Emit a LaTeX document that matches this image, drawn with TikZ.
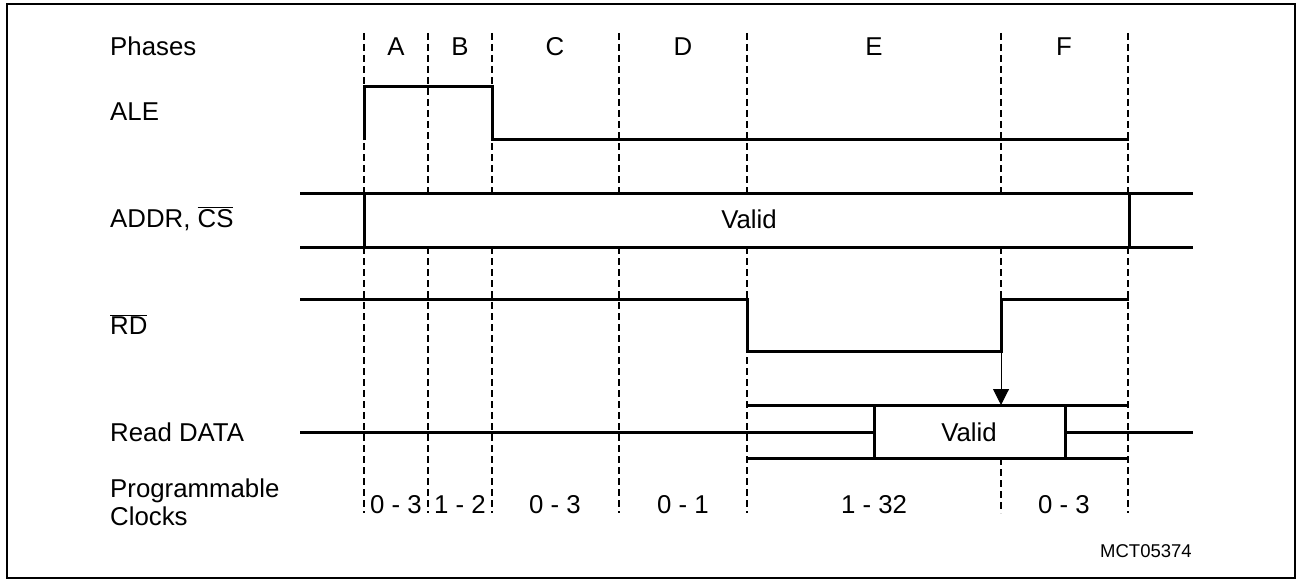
\documentclass[tikz,border=0pt]{standalone}
\usepackage{fontspec}
\setmainfont{Liberation Sans}
\usetikzlibrary{arrows.meta}
\begin{document}
\begin{tikzpicture}[x=1pt,y=-1pt,
  sig/.style={line width=3pt, line join=miter},
  guide/.style={dash pattern=on 7pt off 4pt, line width=1.6pt},
  lbl/.style={anchor=base west, inner sep=0pt, font=\fontsize{25.8}{28}\selectfont},
  txt/.style={anchor=base, inner sep=0pt, font=\fontsize{25.8}{28}\selectfont},
  small/.style={anchor=base west, inner sep=0pt, font=\fontsize{18.5}{22}\selectfont}]
\useasboundingbox (0,0) rectangle (1297,583);
\draw[line width=2pt] (6.5,4.5) rectangle (1294.5,578);
% phase boundaries (interrupted inside the ADDR band)
\foreach \n/\x in {a/364,b/428,c/492,d/619,e/747,f/1001,g/1128}{
  \coordinate (\n top) at (\x,33);
  \coordinate (\n au) at (\x,193);
  \coordinate (\n al) at (\x,247);
  \coordinate (\n bot) at (\x,513);
}
\foreach \n in {a,b,c,d,e,g}{
  \draw[guide] (\n top) -- (\n au);
  \draw[guide] (\n al) -- (\n bot);
}
\coordinate (rdrise) at (1001,351);
\coordinate (datatop) at (1001,405);
\draw[guide] (ftop) -- (fau);
\draw[guide] (fal) -- (1001,299);
\draw[guide] (1001,458) -- (fbot);
% labels
\node[lbl] (lphases) at (110,56) {Phases};
\node[lbl] (lale) at (110,121) {ALE};
\node[lbl] (laddr) at (110,227) {ADDR, $\overline{\mbox{CS}}$};
\node[lbl] (lrd) at (110,334) {$\overline{\mbox{RD}}$};
\node[lbl] (ldata) at (110,441) {Read DATA};
\node[lbl, align=left] (lclk) at (110,525) {Programmable\\Clocks};
% phase letters
\foreach \n/\x/\t in {pa/396/A,pb/460/B,pc/555/C,pd/683/D,pe/874/E,pf/1064/F}{
  \node[txt] (\n) at (\x,56) {\t};
}
% clock counts
\foreach \n/\x/\t in {ca/396/0 - 3,cb/460/1 - 2,cc/555/0 - 3,cd/683/0 - 1,ce/874/1 - 32,cf/1064/0 - 3}{
  \node[txt] (\n) at (\x,513) {\t};
}
% ALE
\draw[sig] (364,140) -- (364,87) -- (492,87) -- (492,139) -- (1129,139);
% ADDR, CS
\draw[sig] (300,193) -- (1193,193);
\draw[sig] (300,247) -- (1193,247);
\draw[sig] (364,193) -- (364,247);
\draw[sig] (1129,193) -- (1129,247);
\node[txt] (vaddr) at (749,228) {Valid};
% RD
\draw[sig] (300,299) -- (747,299) -- (747,351) -- (1001,351) -- (1001,299) -- (1129,299);
% Read DATA
\draw[sig] (300,432) -- (874,432);
\draw[sig] (1065,432) -- (1193,432);
\draw[sig] (747,405) -- (1129,405);
\draw[sig] (747,458) -- (1129,458);
\draw[sig] (874,405) -- (874,458);
\draw[sig] (1065,405) -- (1065,458);
\node[txt] (vdata) at (969,441) {Valid};
% arrow
\draw[line width=1pt, -{Triangle[length=16pt,width=16pt]}] (rdrise) -- (datatop);
\node[small] (mct) at (1100,557) {MCT05374};
\end{tikzpicture}
\end{document}
